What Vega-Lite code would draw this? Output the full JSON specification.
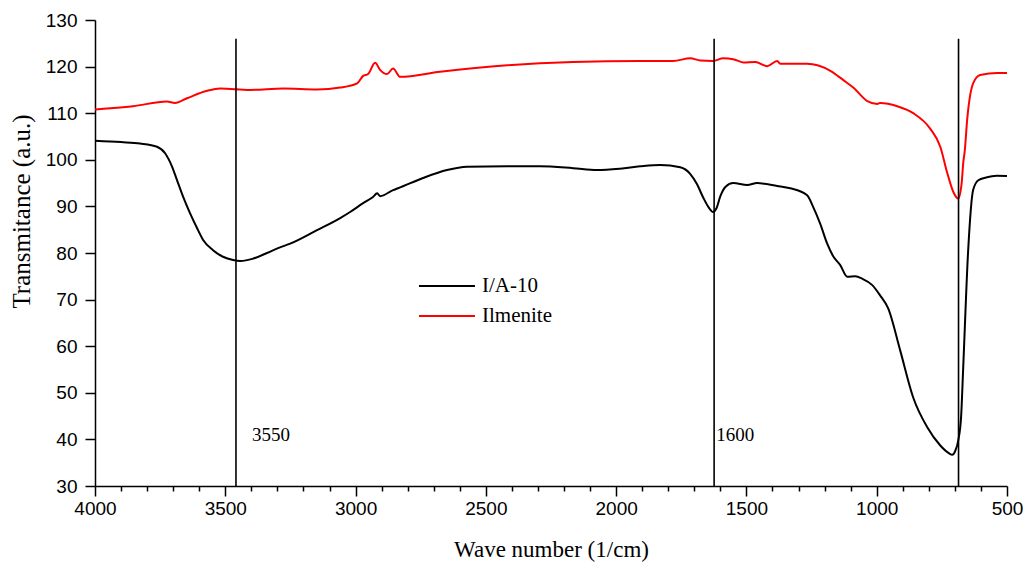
{
  "$schema": "https://vega.github.io/schema/vega-lite/v6.json",
  "width": 912,
  "height": 466,
  "autosize": {"type": "none"},
  "padding": {"left": 95, "top": 20, "right": 22, "bottom": 79},
  "config": {
    "view": {"stroke": null},
    "axis": {
      "grid": false,
      "domainColor": "black",
      "tickColor": "black",
      "labelColor": "black",
      "titleColor": "black",
      "domainWidth": 1.5,
      "tickWidth": 1.5,
      "labelFont": "Liberation Sans",
      "labelFontSize": 19,
      "titleFont": "Liberation Serif",
      "titleFontWeight": "normal",
      "titleFontSize": 23
    }
  },
  "datasets": {
    "spectra": [
      {"s": "I/A-10", "wn": 4000, "t": 104.1},
      {"s": "I/A-10", "wn": 3900, "t": 103.8},
      {"s": "I/A-10", "wn": 3827, "t": 103.5},
      {"s": "I/A-10", "wn": 3762, "t": 102.8},
      {"s": "I/A-10", "wn": 3731, "t": 101.4},
      {"s": "I/A-10", "wn": 3704, "t": 98.5},
      {"s": "I/A-10", "wn": 3685, "t": 95.6},
      {"s": "I/A-10", "wn": 3662, "t": 92.1},
      {"s": "I/A-10", "wn": 3635, "t": 88.5},
      {"s": "I/A-10", "wn": 3608, "t": 85.3},
      {"s": "I/A-10", "wn": 3585, "t": 82.8},
      {"s": "I/A-10", "wn": 3547, "t": 80.6},
      {"s": "I/A-10", "wn": 3509, "t": 79.2},
      {"s": "I/A-10", "wn": 3470, "t": 78.5},
      {"s": "I/A-10", "wn": 3443, "t": 78.3},
      {"s": "I/A-10", "wn": 3393, "t": 78.8},
      {"s": "I/A-10", "wn": 3340, "t": 80.0},
      {"s": "I/A-10", "wn": 3290, "t": 81.2},
      {"s": "I/A-10", "wn": 3251, "t": 82.0},
      {"s": "I/A-10", "wn": 3148, "t": 84.9},
      {"s": "I/A-10", "wn": 3059, "t": 87.5},
      {"s": "I/A-10", "wn": 3021, "t": 88.8},
      {"s": "I/A-10", "wn": 2971, "t": 90.7},
      {"s": "I/A-10", "wn": 2933, "t": 92.0},
      {"s": "I/A-10", "wn": 2917, "t": 92.8},
      {"s": "I/A-10", "wn": 2906, "t": 92.2},
      {"s": "I/A-10", "wn": 2856, "t": 93.5},
      {"s": "I/A-10", "wn": 2837, "t": 93.9},
      {"s": "I/A-10", "wn": 2741, "t": 96.1},
      {"s": "I/A-10", "wn": 2649, "t": 97.8},
      {"s": "I/A-10", "wn": 2573, "t": 98.5},
      {"s": "I/A-10", "wn": 2418, "t": 98.6},
      {"s": "I/A-10", "wn": 2292, "t": 98.6},
      {"s": "I/A-10", "wn": 2165, "t": 98.2},
      {"s": "I/A-10", "wn": 2073, "t": 97.8},
      {"s": "I/A-10", "wn": 1985, "t": 98.1},
      {"s": "I/A-10", "wn": 1908, "t": 98.6},
      {"s": "I/A-10", "wn": 1831, "t": 98.9},
      {"s": "I/A-10", "wn": 1754, "t": 98.4},
      {"s": "I/A-10", "wn": 1716, "t": 97.0},
      {"s": "I/A-10", "wn": 1690, "t": 94.8},
      {"s": "I/A-10", "wn": 1665, "t": 91.8},
      {"s": "I/A-10", "wn": 1645, "t": 89.8},
      {"s": "I/A-10", "wn": 1628, "t": 88.8},
      {"s": "I/A-10", "wn": 1615, "t": 89.6},
      {"s": "I/A-10", "wn": 1600, "t": 92.2},
      {"s": "I/A-10", "wn": 1580, "t": 94.2},
      {"s": "I/A-10", "wn": 1551, "t": 95.0},
      {"s": "I/A-10", "wn": 1497, "t": 94.6},
      {"s": "I/A-10", "wn": 1459, "t": 95.0},
      {"s": "I/A-10", "wn": 1382, "t": 94.4},
      {"s": "I/A-10", "wn": 1332, "t": 93.9},
      {"s": "I/A-10", "wn": 1267, "t": 92.4},
      {"s": "I/A-10", "wn": 1244, "t": 89.9},
      {"s": "I/A-10", "wn": 1217, "t": 86.3},
      {"s": "I/A-10", "wn": 1190, "t": 82.0},
      {"s": "I/A-10", "wn": 1167, "t": 79.3},
      {"s": "I/A-10", "wn": 1140, "t": 77.4},
      {"s": "I/A-10", "wn": 1113, "t": 74.9},
      {"s": "I/A-10", "wn": 1082, "t": 75.0},
      {"s": "I/A-10", "wn": 1056, "t": 74.5},
      {"s": "I/A-10", "wn": 1017, "t": 73.1},
      {"s": "I/A-10", "wn": 987, "t": 70.9},
      {"s": "I/A-10", "wn": 956, "t": 68.1},
      {"s": "I/A-10", "wn": 910, "t": 59.1},
      {"s": "I/A-10", "wn": 860, "t": 49.0},
      {"s": "I/A-10", "wn": 806, "t": 42.6},
      {"s": "I/A-10", "wn": 756, "t": 38.7},
      {"s": "I/A-10", "wn": 722, "t": 37.0},
      {"s": "I/A-10", "wn": 710, "t": 36.7},
      {"s": "I/A-10", "wn": 699, "t": 37.5},
      {"s": "I/A-10", "wn": 687, "t": 39.8},
      {"s": "I/A-10", "wn": 676, "t": 45.0},
      {"s": "I/A-10", "wn": 668, "t": 55.5},
      {"s": "I/A-10", "wn": 649, "t": 80.6},
      {"s": "I/A-10", "wn": 630, "t": 93.5},
      {"s": "I/A-10", "wn": 610, "t": 95.6},
      {"s": "I/A-10", "wn": 580, "t": 96.2},
      {"s": "I/A-10", "wn": 540, "t": 96.6},
      {"s": "I/A-10", "wn": 500, "t": 96.5},
      {"s": "Ilmenite", "wn": 4000, "t": 110.8},
      {"s": "Ilmenite", "wn": 3854, "t": 111.5},
      {"s": "Ilmenite", "wn": 3724, "t": 112.5},
      {"s": "Ilmenite", "wn": 3693, "t": 112.2},
      {"s": "Ilmenite", "wn": 3647, "t": 113.2},
      {"s": "Ilmenite", "wn": 3570, "t": 114.8},
      {"s": "Ilmenite", "wn": 3520, "t": 115.3},
      {"s": "Ilmenite", "wn": 3405, "t": 115.0},
      {"s": "Ilmenite", "wn": 3278, "t": 115.3},
      {"s": "Ilmenite", "wn": 3148, "t": 115.1},
      {"s": "Ilmenite", "wn": 3059, "t": 115.5},
      {"s": "Ilmenite", "wn": 2994, "t": 116.4},
      {"s": "Ilmenite", "wn": 2971, "t": 118.0},
      {"s": "Ilmenite", "wn": 2952, "t": 118.4},
      {"s": "Ilmenite", "wn": 2925, "t": 120.8},
      {"s": "Ilmenite", "wn": 2906, "t": 119.3},
      {"s": "Ilmenite", "wn": 2879, "t": 118.4},
      {"s": "Ilmenite", "wn": 2856, "t": 119.6},
      {"s": "Ilmenite", "wn": 2829, "t": 117.8},
      {"s": "Ilmenite", "wn": 2676, "t": 118.9},
      {"s": "Ilmenite", "wn": 2418, "t": 120.3},
      {"s": "Ilmenite", "wn": 2165, "t": 121.0},
      {"s": "Ilmenite", "wn": 1908, "t": 121.2},
      {"s": "Ilmenite", "wn": 1781, "t": 121.2},
      {"s": "Ilmenite", "wn": 1716, "t": 121.8},
      {"s": "Ilmenite", "wn": 1677, "t": 121.3},
      {"s": "Ilmenite", "wn": 1628, "t": 121.2},
      {"s": "Ilmenite", "wn": 1589, "t": 121.8},
      {"s": "Ilmenite", "wn": 1551, "t": 121.6},
      {"s": "Ilmenite", "wn": 1512, "t": 120.9},
      {"s": "Ilmenite", "wn": 1466, "t": 121.0},
      {"s": "Ilmenite", "wn": 1420, "t": 120.1},
      {"s": "Ilmenite", "wn": 1382, "t": 121.2},
      {"s": "Ilmenite", "wn": 1370, "t": 120.6},
      {"s": "Ilmenite", "wn": 1267, "t": 120.6},
      {"s": "Ilmenite", "wn": 1178, "t": 119.1},
      {"s": "Ilmenite", "wn": 1128, "t": 117.1},
      {"s": "Ilmenite", "wn": 1090, "t": 115.5},
      {"s": "Ilmenite", "wn": 1036, "t": 112.6},
      {"s": "Ilmenite", "wn": 998, "t": 112.0},
      {"s": "Ilmenite", "wn": 987, "t": 112.2},
      {"s": "Ilmenite", "wn": 921, "t": 111.5},
      {"s": "Ilmenite", "wn": 860, "t": 110.0},
      {"s": "Ilmenite", "wn": 795, "t": 106.7},
      {"s": "Ilmenite", "wn": 756, "t": 102.8},
      {"s": "Ilmenite", "wn": 729, "t": 97.1},
      {"s": "Ilmenite", "wn": 706, "t": 93.1},
      {"s": "Ilmenite", "wn": 687, "t": 91.7},
      {"s": "Ilmenite", "wn": 674, "t": 95.0},
      {"s": "Ilmenite", "wn": 668, "t": 99.3},
      {"s": "Ilmenite", "wn": 662, "t": 102.0},
      {"s": "Ilmenite", "wn": 653, "t": 108.5},
      {"s": "Ilmenite", "wn": 630, "t": 116.4},
      {"s": "Ilmenite", "wn": 603, "t": 118.2},
      {"s": "Ilmenite", "wn": 537, "t": 118.6},
      {"s": "Ilmenite", "wn": 500, "t": 118.6}
    ],
    "marks": [
      {"wn": 3459, "lx": 3397, "label": "3550"},
      {"wn": 1624, "lx": 1616, "label": "1600"},
      {"wn": 686}
    ]
  },
  "layer": [
    {
      "data": {"name": "spectra"},
      "mark": {"type": "line", "strokeWidth": 2, "interpolate": "monotone"},
      "encoding": {
        "x": {
          "field": "wn",
          "type": "quantitative",
          "scale": {"domain": [500, 4000], "reverse": true, "nice": false, "zero": false},
          "axis": {
            "orient": "bottom",
            "values": [4000, 3900, 3800, 3700, 3600, 3500, 3400, 3300, 3200, 3100, 3000, 2900, 2800, 2700, 2600, 2500, 2400, 2300, 2200, 2100, 2000, 1900, 1800, 1700, 1600, 1500, 1400, 1300, 1200, 1100, 1000, 900, 800, 700, 600, 500],
            "tickSize": {"condition": {"test": "datum.value % 500 === 0", "value": 10}, "value": 5},
            "labelExpr": "datum.value % 500 === 0 ? format(datum.value, 'd') : ''",
            "labelPadding": 3,
            "labelBaseline": "top",
            "labelFlush": false,
            "labelOverlap": false,
            "title": "Wave number (1/cm)",
            "titleBaseline": "alphabetic",
            "titleY": 70,
            "titleX": 456
          }
        },
        "y": {
          "field": "t",
          "type": "quantitative",
          "scale": {"domain": [30, 130], "nice": false, "zero": false},
          "axis": {
            "values": [30, 40, 50, 60, 70, 80, 90, 100, 110, 120, 130],
            "tickSize": 10,
            "labelPadding": 8,
            "title": "Transmitance (a.u.)",
            "titleFontSize": 25,
            "titleBaseline": "alphabetic",
            "titleX": -66,
            "titleY": 191
          }
        },
        "color": {
          "field": "s",
          "type": "nominal",
          "scale": {"domain": ["I/A-10", "Ilmenite"], "range": ["#000000", "#ff0000"]},
          "legend": {
            "orient": "none",
            "legendX": 323,
            "legendY": 254,
            "title": null,
            "padding": 0,
            "symbolType": "stroke",
            "symbolSize": 3136,
            "symbolStrokeWidth": 2,
            "clipHeight": 24,
            "rowPadding": 6,
            "labelOffset": 6,
            "labelFont": "Liberation Serif",
            "labelFontSize": 21,
            "labelColor": "black"
          }
        }
      }
    },
    {
      "data": {"name": "marks"},
      "mark": {"type": "rule", "strokeWidth": 1.6, "color": "black"},
      "encoding": {
        "x": {"field": "wn", "type": "quantitative", "axis": null},
        "y": {"datum": 30, "type": "quantitative"},
        "y2": {"datum": 126}
      }
    },
    {
      "data": {"name": "marks"},
      "transform": [{"filter": "isValid(datum.label)"}],
      "mark": {"type": "text", "font": "Liberation Serif", "fontSize": 19, "align": "left", "baseline": "middle", "color": "black"},
      "encoding": {
        "x": {"field": "lx", "type": "quantitative", "axis": null},
        "y": {"datum": 41, "type": "quantitative"},
        "text": {"field": "label"}
      }
    }
  ],
  "resolve": {"axis": {"x": "independent"}}
}
